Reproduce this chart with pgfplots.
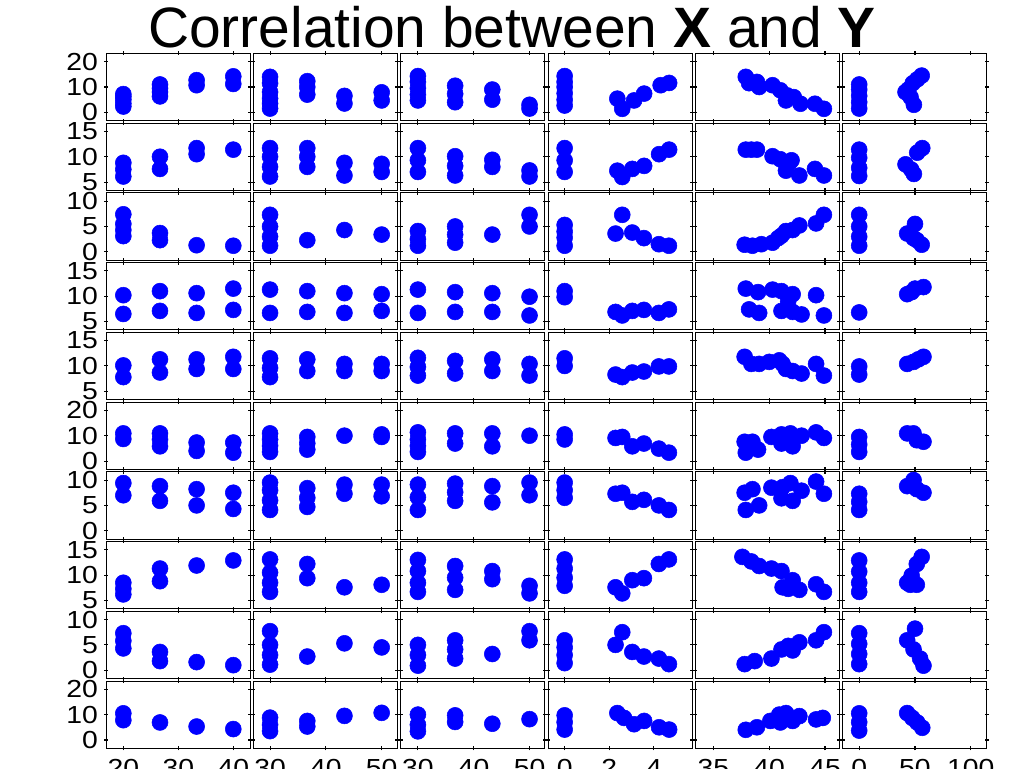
\documentclass[border=0pt]{standalone}
\usepackage{pgfplots}
\pgfplotsset{compat=1.18}
\usepgfplotslibrary{groupplots}
\usetikzlibrary{calc}
\usepackage{fontspec}
\setmainfont{Liberation Sans}
\newfontfamily\tickfont[FakeStretch=1.15]{Liberation Sans}
\definecolor{mblue}{RGB}{0,0,255}
\pgfplotsset{
 c1/.style={xmin=16.85,xmax=43.04,xtick={20,30,40}},
 c2/.style={xmin=27.0,xmax=52.8,xtick={30,40,50}},
 c3/.style={xmin=26.9,xmax=52.7,xtick={30,40,50}},
 c4/.style={xmin=-0.75,xmax=5.70,xtick={0,2,4}},
 c5/.style={xmin=33.37,xmax=46.27,xtick={35,40,45}},
 c6/.style={xmin=-14.96,xmax=114.07,xtick={0,50,100}},
 rA/.style={ymin=-3.27,ymax=23.27,ytick={0,10,20}},
 rB/.style={ymin=3.36,ymax=16.64,ytick={5,10,15}},
 rC/.style={ymin=-1.64,ymax=11.64,ytick={0,5,10}},
}
\begin{document}
\begin{tikzpicture}
\begin{groupplot}[
 group style={group size=6 by 10, horizontal sep=2.475pt, vertical sep=1.8pt,
   xticklabels at=edge bottom, yticklabels at=edge left},
 scale only axis, width=108pt, height=50.5pt,
 axis line style={black, line width=0.6pt},
 tick align=center, major tick length=3pt, tick style={black, line width=0.8pt},
 ticklabel style={font=\tickfont\fontsize{18.5}{18.5}\selectfont},
 yticklabel style={xshift=-1pt},
 xticklabel style={yshift=-3.5pt},
 /pgf/number format/assume math mode=true,
 every axis plot/.append style={only marks, mark=*, mark size=6pt},
 every axis plot post/.append style={mblue, mark options={fill=mblue, draw=mblue}},
]
% ---------- row 1
\nextgroupplot[c1,rA]
\addplot coordinates {(20,2.3)(20,3.5)(20,5)(20,6.2)(20,7.2)(26.67,6.3)(26.67,8)(26.67,9.5)(26.67,11)(33.33,10.7)(33.33,12.7)(40,11.2)(40,14.2)};
\nextgroupplot[c2,rA]
\addplot coordinates {(30,1.5)(30,3.5)(30,5.5)(30,8)(30,11.5)(30,14)(36.67,7)(36.67,10)(36.67,12.3)(43.33,3.5)(43.33,6.5)(50,4.7)(50,7.9)};
\nextgroupplot[c3,rA]
\addplot coordinates {(30,4.7)(30,7)(30,9.5)(30,12)(30,14.3)(36.67,4)(36.67,7.3)(36.67,10.5)(43.33,5)(43.33,9)(50,1.5)(50,3)};
\nextgroupplot[c4,rA]
\addplot coordinates {(0,2.7)(0,5)(0,7.5)(0,10)(0,12)(0,14.3)(2.36,5.4)(2.58,1.4)(3.11,4.7)(3.56,7.4)(4.3,10.7)(4.68,11.6)};
\nextgroupplot[c5,rA]
\addplot coordinates {(37.9,14)(38.2,11.5)(38.9,12)(39.1,10)(40.3,10.7)(41,8.7)(41.6,6.7)(41.5,4.7)(42.2,6)(42.8,3.4)(44.1,3.4)(44.9,1.4)};
\nextgroupplot[c6,rA]
\addplot coordinates {(0,1.5)(0,4)(0,6.5)(0,9)(0,11)(56,14.5)(52,13)(48,11.5)(44,9)(41.5,8)(46,6)(49,3)};
% ---------- row 2
\nextgroupplot[c1,rB]
\addplot coordinates {(20,6.1)(20,7.5)(20,8.8)(26.67,7.6)(26.67,10)(33.33,10.5)(33.33,11.7)(40,11.4)};
\nextgroupplot[c2,rB]
\addplot coordinates {(30,6.1)(30,8)(30,10)(30,11.7)(36.67,8)(36.67,10)(36.67,11.7)(43.33,6.3)(43.33,8.8)(50,7)(50,8.6)};
\nextgroupplot[c3,rB]
\addplot coordinates {(30,7)(30,9.3)(30,11.7)(36.67,6.3)(36.67,8.2)(36.67,10.1)(43.33,8)(43.33,9.4)(50,6.1)(50,7.3)};
\nextgroupplot[c4,rB]
\addplot coordinates {(0,7)(0,9.3)(0,11.7)(2.36,7.25)(2.58,6)(3.03,7.6)(3.56,8.2)(4.23,10.5)(4.68,11.4)};
\nextgroupplot[c5,rB]
\addplot coordinates {(37.9,11.4)(38.4,11.4)(38.9,11.4)(40.3,10.1)(41,9.5)(41.8,8.8)(41.5,7.25)(42,9.3)(42.7,6.3)(44.1,7.6)(44.9,6.3)};
\nextgroupplot[c6,rB]
\addplot coordinates {(0,6.2)(0,7.8)(0,9.8)(0,11.4)(56.5,11.7)(52,10.8)(41.5,8.5)(46.5,7.5)(49,6.6)};
% ---------- row 3
\nextgroupplot[c1,rC]
\addplot coordinates {(20,3.1)(20,4.3)(20,5.5)(20,7.4)(26.67,2.3)(26.67,3.7)(33.33,1.3)(40,1.2)};
\nextgroupplot[c2,rC]
\addplot coordinates {(30,1.2)(30,3)(30,5)(30,7.3)(36.67,2.3)(43.33,4.3)(50,3.4)};
\nextgroupplot[c3,rC]
\addplot coordinates {(30,1.2)(30,2.5)(30,4.1)(36.67,1.8)(36.67,3.4)(36.67,5)(43.33,3.4)(50,5)(50,7.3)};
\nextgroupplot[c4,rC]
\addplot coordinates {(0,1.2)(0,2.8)(0,4)(0,5.3)(2.58,7.3)(2.28,3.6)(3.03,3.8)(3.55,2.7)(4.22,1.5)(4.67,1.2)};
\nextgroupplot[c5,rC]
\addplot coordinates {(37.8,1.4)(38.5,1.2)(39.3,1.5)(40.3,1.8)(40.8,2.7)(41.1,3.2)(41.5,4.1)(42.1,4.3)(42.7,5.2)(44.2,5.6)(44.9,7.3)};
\nextgroupplot[c6,rC]
\addplot coordinates {(0,1.2)(0,3)(0,5)(0,7.3)(50,5.5)(43,3.6)(48.7,2.7)(51.6,2.3)(56,1.4)};
% ---------- row 4
\nextgroupplot[c1,rB]
\addplot coordinates {(20,10.2)(20,6.5)(26.67,11)(26.67,7.1)(33.33,10.6)(33.33,6.7)(40,11.5)(40,7.3)};
\nextgroupplot[c2,rB]
\addplot coordinates {(30,11.3)(30,6.7)(36.67,11)(36.67,6.9)(43.33,10.6)(43.33,6.7)(50,10.4)(50,7.1)};
\nextgroupplot[c3,rB]
\addplot coordinates {(30,11.3)(30,6.7)(36.67,10.8)(36.67,6.9)(43.33,10.6)(43.33,6.9)(50,9.9)(50,6.2)};
\nextgroupplot[c4,rB]
\addplot coordinates {(0,9.8)(0,11)(2.28,6.9)(2.58,6.2)(3.03,7.1)(3.55,7.3)(4.22,6.7)(4.67,7.4)};
\nextgroupplot[c5,rB]
\addplot coordinates {(37.9,11.5)(39,10.8)(40.3,11.3)(41.1,11)(42.1,10.4)(44.2,10.2)(38.2,7.4)(39.1,6.7)(41.1,7.1)(42.1,6.9)(42.9,6.4)(44.9,6.2)(41.7,9)};
\nextgroupplot[c6,rB]
\addplot coordinates {(0,6.8)(43,10.4)(47,10.8)(50,11.5)(57.6,11.8)};
% ---------- row 5
\nextgroupplot[c1,rB]
\addplot coordinates {(20,7.8)(20,10.1)(26.67,8.7)(26.67,11.3)(33.33,9.4)(33.33,11.3)(40,9.4)(40,11.8)};
\nextgroupplot[c2,rB]
\addplot coordinates {(30,7.8)(30,9.6)(30,11.5)(36.67,9)(36.67,11.3)(43.33,9)(43.33,10.4)(50,9)(50,10.4)};
\nextgroupplot[c3,rB]
\addplot coordinates {(30,8.1)(30,9.8)(30,11.6)(36.67,8.5)(36.67,11)(43.33,9)(43.33,11.3)(50,8.1)(50,10.4)};
\nextgroupplot[c4,rB]
\addplot coordinates {(0,10)(0,11.5)(2.28,8.3)(2.58,7.8)(3.03,8.7)(3.55,8.9)(4.22,9.9)(4.67,9.9)};
\nextgroupplot[c5,rB]
\addplot coordinates {(37.8,11.8)(38.4,10.4)(39.1,10.4)(40,10.8)(40.9,11.1)(41.2,10.4)(41.5,9.4)(42.1,9)(42.9,8.5)(44.2,10.4)(44.9,8.1)};
\nextgroupplot[c6,rB]
\addplot coordinates {(0,8.3)(0,9.9)(43,10.4)(48.7,10.8)(53,11.3)(57.6,11.8)};
% ---------- row 6
\nextgroupplot[c1,rA]
\addplot coordinates {(20,8.7)(20,10.9)(26.67,5.8)(26.67,8.5)(26.67,10.9)(33.33,4)(33.33,7.3)(40,3.3)(40,7.3)};
\nextgroupplot[c2,rA]
\addplot coordinates {(30,3.6)(30,6)(30,8.5)(30,10.9)(36.67,4.5)(36.67,7)(36.67,9.5)(43.33,10)(50,9.5)(50,10.5)};
\nextgroupplot[c3,rA]
\addplot coordinates {(30,3.6)(30,6)(30,8.5)(30,11.3)(36.67,6.9)(36.67,10.9)(43.33,5.8)(43.33,10.9)(50,10)};
\nextgroupplot[c4,rA]
\addplot coordinates {(0,8.5)(0,10.5)(2.28,9.1)(2.58,9.5)(3.03,5.8)(3.55,6.9)(4.22,4.9)(4.67,3.3)};
\nextgroupplot[c5,rA]
\addplot coordinates {(37.8,7.6)(38.5,7.6)(37.9,3.3)(39,4.5)(40.2,9.5)(41.1,10.5)(41.9,10.9)(42.9,10)(41.1,6.9)(42.1,5.8)(44.2,11.3)(44.9,9.1)};
\nextgroupplot[c6,rA]
\addplot coordinates {(0,3.6)(0,6.5)(0,9.5)(43,10.9)(48.7,10.9)(51.6,8.2)(57.6,7.6)};
% ---------- row 7
\nextgroupplot[c1,rC]
\addplot coordinates {(20,7)(20,9.4)(26.67,8.8)(26.67,5.9)(33.33,8.2)(33.33,5)(40,7.5)(40,4.3)};
\nextgroupplot[c2,rC]
\addplot coordinates {(30,4.1)(30,6)(30,8)(30,9.5)(36.67,4.7)(36.67,6.5)(36.67,8.4)(43.33,9.1)(43.33,7.3)(50,9.1)(50,6.8)};
\nextgroupplot[c3,rC]
\addplot coordinates {(30,4.1)(30,6.6)(30,9.1)(36.67,5.9)(36.67,7.6)(36.67,9.3)(43.33,8.8)(43.33,5.6)(50,9.5)(50,7)};
\nextgroupplot[c4,rC]
\addplot coordinates {(0,6.5)(0,8)(0,9.5)(2.28,7.3)(2.58,7.5)(3.03,5.7)(3.55,6.1)(4.22,5)(4.67,4.1)};
\nextgroupplot[c5,rC]
\addplot coordinates {(37.8,7.5)(38.5,8.2)(37.9,4.1)(39.1,5)(40.2,8.5)(41.2,8.6)(41.9,9.4)(41.1,6.4)(42.1,5.9)(42.9,7.9)(44.2,9.7)(44.9,7.3)};
\nextgroupplot[c6,rC]
\addplot coordinates {(0,4.1)(0,5.7)(0,7.3)(43,8.8)(48.7,10)(51.6,8.2)(57.6,7.5)};
% ---------- row 8
\nextgroupplot[c1,rB]
\addplot coordinates {(20,6.2)(20,7.3)(20,8.5)(26.67,8.8)(26.67,11.3)(33.33,11.9)(40,12.9)};
\nextgroupplot[c2,rB]
\addplot coordinates {(30,6.7)(30,8.5)(30,10.5)(30,13.1)(36.67,9.4)(36.67,12.2)(43.33,7.6)(50,8.1)};
\nextgroupplot[c3,rB]
\addplot coordinates {(30,6.7)(30,8.5)(30,10.8)(30,13)(36.67,7.1)(36.67,9.5)(36.67,11.8)(43.33,9.2)(43.33,10.8)(50,6.4)(50,7.9)};
\nextgroupplot[c4,rB]
\addplot coordinates {(0,7.9)(0,9.5)(0,11.3)(0,13.1)(2.28,7.6)(2.58,6.4)(3.03,9)(3.55,9.4)(4.22,12.2)(4.67,13.1)};
\nextgroupplot[c5,rB]
\addplot coordinates {(37.6,13.6)(38.4,12.7)(39.1,11.8)(40.2,11.3)(41.1,10.8)(41.2,7.6)(41.7,7.3)(42.1,9)(42.7,7.1)(44.2,8.2)(44.9,6.7)};
\nextgroupplot[c6,rB]
\addplot coordinates {(0,6.7)(0,8.5)(0,10.7)(0,12.9)(56,13.6)(51.6,12.2)(47,9.9)(43,8.5)(45.7,8.1)(51.6,8.1)};
% ---------- row 9
\nextgroupplot[c1,rC]
\addplot coordinates {(20,4.3)(20,5.8)(20,7.3)(26.67,1.8)(26.67,3.6)(33.33,1.6)(40,1)};
\nextgroupplot[c2,rC]
\addplot coordinates {(30,1.1)(30,3)(30,5)(30,7.7)(36.67,2.7)(43.33,5.3)(50,4.5)};
\nextgroupplot[c3,rC]
\addplot coordinates {(30,0.9)(30,3)(30,5)(36.67,2.3)(36.67,4.1)(36.67,5.9)(43.33,3.2)(50,5.9)(50,7.7)};
\nextgroupplot[c4,rC]
\addplot coordinates {(0,1.4)(0,3)(0,4.5)(0,5.9)(2.28,5)(2.58,7.5)(3.03,3.6)(3.55,2.7)(4.22,2.3)(4.67,1.2)};
\nextgroupplot[c5,rC]
\addplot coordinates {(37.8,1.2)(38.7,1.8)(40.2,2.3)(41.1,4.1)(41.7,4.8)(42.1,3.9)(42.7,5.5)(44.2,5.9)(44.9,7.5)};
\nextgroupplot[c6,rC]
\addplot coordinates {(0,1.2)(0,3.2)(0,5.2)(0,7.3)(50,8.2)(43,5.9)(48.7,4.1)(54.6,2.3)(57.6,0.9)};
% ---------- row 10
\nextgroupplot[c1,rA]
\addplot coordinates {(20,7.8)(20,10.5)(26.67,6.9)(33.33,5.3)(40,4.3)};
\nextgroupplot[c2,rA]
\addplot coordinates {(30,3.5)(30,6)(30,8.8)(36.67,5.3)(36.67,7.5)(43.33,9.5)(50,10.7)};
\nextgroupplot[c3,rA]
\addplot coordinates {(30,3.4)(30,6)(30,10)(36.67,7.1)(36.67,9.7)(43.33,6.4)(50,8.2)};
\nextgroupplot[c4,rA]
\addplot coordinates {(0,4.1)(0,7)(0,9.7)(2.36,10.6)(2.66,8.7)(3.11,6.2)(3.56,7.5)(4.23,5)(4.68,4.1)};
\nextgroupplot[c5,rA]
\addplot coordinates {(37.9,4)(38.9,5)(40.1,7.5)(41,6.9)(41.5,10.6)(42.1,7.5)(42.7,9.4)(44.2,8.1)(44.8,8.7)(40.9,10)};
\nextgroupplot[c6,rA]
\addplot coordinates {(0,3.7)(0,7)(0,10.5)(43,10.6)(47.5,8.7)(52,6.9)(56.5,4.8)};
\end{groupplot}
\node[anchor=base, font=\fontsize{42.7}{42.7}\selectfont, inner sep=0pt] at ($(group c1r1.north west)+(304.5pt,4.7pt)$) {Correlation between \textbf{X} and \textbf{Y}};
\pgfresetboundingbox
\path[use as bounding box] ($(group c1r1.north west)+(-79.5pt,40pt)$) rectangle ++(768pt,-576pt);
\end{tikzpicture}
\end{document}
